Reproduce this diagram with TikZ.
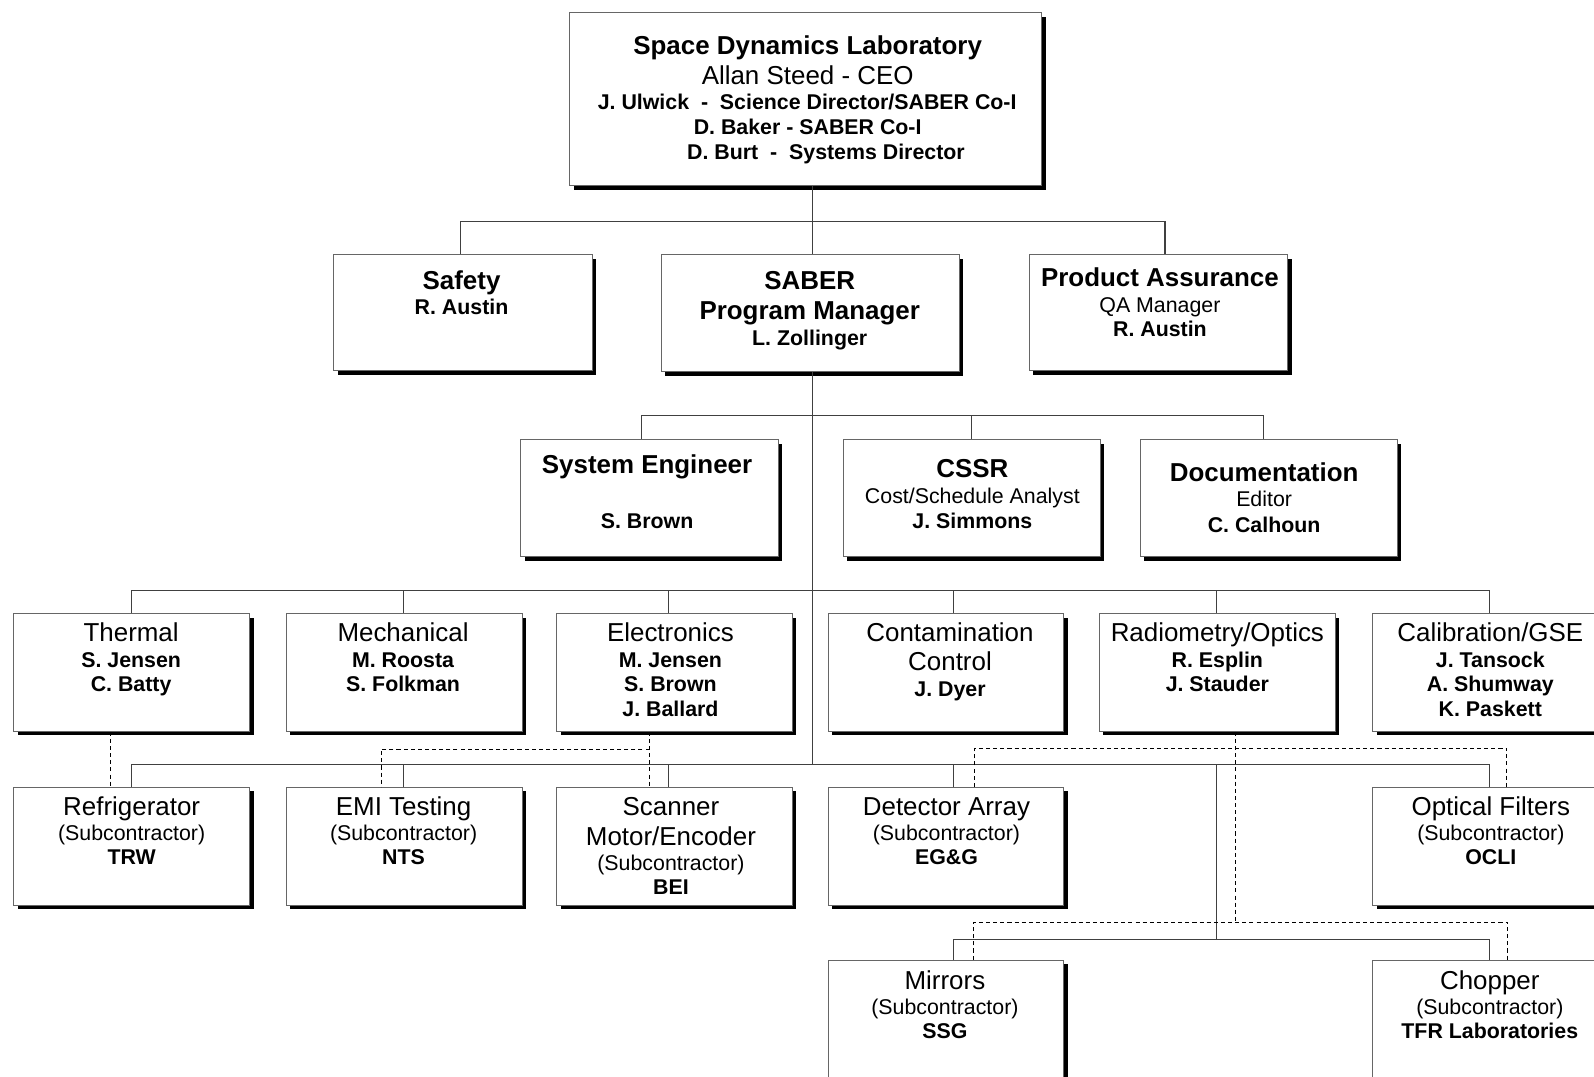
\documentclass[tikz,border=0pt]{standalone}
\usepackage{fontspec}
\setmainfont{Liberation Sans}
\usetikzlibrary{shadows}
\newcommand\tline[5]{\node[#1] (#2) at (#3,#4) {#5};}
\begin{document}
\begin{tikzpicture}[x=1pt,y=-1pt,
  box/.style={draw=black!60, line width=0.9pt, fill=white, inner sep=0pt, anchor=north west,
    drop shadow={shadow xshift=4pt, shadow yshift=-4pt, fill=black, opacity=1}},
  conn/.style={draw=black!75, line width=1.1pt},
  dline/.style={draw=black, line width=0.9pt, dash pattern=on 4pt off 3pt},
  tb/.style={anchor=base, inner sep=0pt, font=\fontsize{25.5}{29}\selectfont\bfseries},
  tr/.style={anchor=base, inner sep=0pt, font=\fontsize{25.5}{29}\selectfont},
  mb/.style={anchor=base, inner sep=0pt, font=\fontsize{21}{24}\selectfont\bfseries},
  mr/.style={anchor=base, inner sep=0pt, font=\fontsize{21}{24}\selectfont},
  l4/.style={box, minimum width=232pt, minimum height=116pt},
  l6/.style={box, minimum width=232pt, minimum height=150pt}]
\clip (0,0) rectangle (1568,1059);
\fill[white] (0,0) rectangle (1568,1059);

% ---------- boxes ----------
\node[box, minimum width=464pt, minimum height=170pt] (sdl) at (560,12) {};
\node[box, minimum width=254pt, minimum height=114pt] (safety) at (328,250) {};
\node[box, minimum width=293pt, minimum height=115pt] (pm) at (650,250) {};
\node[box, minimum width=254pt, minimum height=114pt] (pa) at (1012,250) {};
\node[box, minimum width=253pt, minimum height=115pt] (se) at (512,432) {};
\node[box, minimum width=253pt, minimum height=115pt] (cssr) at (829,432) {};
\node[box, minimum width=253pt, minimum height=115pt] (doc) at (1121,432) {};
\node[l4] (thermal) at (13,603) {};
\node[l4] (mech) at (281,603) {};
\node[l4] (elec) at (547,603) {};
\node[l4] (contam) at (814,603) {};
\node[l4] (radio) at (1081,603) {};
\node[l4] (calib) at (1350,603) {};
\node[l4] (refrig) at (13,774) {};
\node[l4] (emi) at (281,774) {};
\node[l4] (scanner) at (547,774) {};
\node[l4] (detector) at (814,774) {};
\node[l4] (optical) at (1350,774) {};
\node[l6] (mirrors) at (814,944) {};
\node[l6] (chopper) at (1350,944) {};

% ---------- solid connectors ----------
\coordinate (b1) at (799,218);
\coordinate (b1l) at (453,218);
\coordinate (b1r) at (1146,218);
\draw[conn] (sdl.south -| b1) -- (b1) -- (pm.north -| b1);
\draw[conn] (safety.north -| b1l) -- (b1l) -- (b1r) -- (pa.north -| b1r);

\coordinate (b2l) at (631,409);
\coordinate (b2m) at (956,409);
\coordinate (b2r) at (1243,409);
\coordinate (b5) at (799,752);
\draw[conn] (pm.south -| b1) -- (b5);
\draw[conn] (se.north -| b2l) -- (b2l) -- (b2r) -- (doc.north -| b2r);
\draw[conn] (b2m) -- (cssr.north -| b2m);

\coordinate (c1) at (129,581);
\coordinate (c2) at (397,581);
\coordinate (c3) at (658,581);
\coordinate (c4) at (938,581);
\coordinate (c5) at (1197,581);
\coordinate (c6) at (1465,581);
\draw[conn] (thermal.north -| c1) -- (c1) -- (c6) -- (calib.north -| c6);
\draw[conn] (c2) -- (mech.north -| c2);
\draw[conn] (c3) -- (elec.north -| c3);
\draw[conn] (c4) -- (contam.north -| c4);
\draw[conn] (c5) -- (radio.north -| c5);

\coordinate (d1) at (129,752);
\coordinate (d2) at (397,752);
\coordinate (d3) at (658,752);
\coordinate (d4) at (938,752);
\coordinate (d5) at (1197,752);
\coordinate (d6) at (1465,752);
\draw[conn] (refrig.north -| d1) -- (d1) -- (d6) -- (optical.north -| d6);
\draw[conn] (d2) -- (emi.north -| d2);
\draw[conn] (d3) -- (scanner.north -| d3);
\draw[conn] (d4) -- (detector.north -| d4);

\coordinate (e4) at (938,924);
\coordinate (e5) at (1197,924);
\coordinate (e6) at (1465,924);
\draw[conn] (d5) -- (e5);
\draw[conn] (mirrors.north -| e4) -- (e4) -- (e6) -- (chopper.north -| e6);

% ---------- dashed connectors ----------
\coordinate (dT) at (108.5,745);
\draw[dline] (thermal.south -| dT) -- (refrig.north -| dT);
\coordinate (dE) at (639,737);
\coordinate (dEm) at (375,737);
\draw[dline] (elec.south -| dE) -- (scanner.north -| dE);
\draw[dline] (dE) -- (dEm) -- (emi.north -| dEm);
\coordinate (dR1) at (1215,736);
\coordinate (dR2) at (1215,907);
\coordinate (dRa) at (959,736);
\coordinate (dRb) at (1482,736);
\coordinate (dRc) at (958,907);
\coordinate (dRd) at (1483,907);
\draw[dline] (radio.south -| dR1) -- (dR2);
\draw[dline] (detector.north -| dRa) -- (dRa) -- (dRb) -- (optical.north -| dRb);
\draw[dline] (mirrors.north -| dRc) -- (dRc) -- (dRd) -- (chopper.north -| dRd);

% ---------- texts ----------
\tline{tb}{sdl1}{794.5}{54}{Space Dynamics Laboratory}
\tline{tr}{sdl2}{794.5}{83}{Allan Steed - CEO}
\tline{mb}{sdl3}{794}{107.5}{J. Ulwick\ \ -\ \ Science Director/SABER Co-I}
\tline{mb}{sdl4}{794.5}{132.5}{D. Baker - SABER Co-I}
\tline{mb}{sdl5}{812.5}{156.5}{D. Burt\ \ -\ \ Systems Director}

\tline{tb}{safety1}{454}{285}{Safety}
\tline{mb}{safety2}{454}{309.5}{R. Austin}

\tline{tb}{pm1}{796.5}{285}{SABER}
\tline{tb}{pm2}{796.5}{314}{Program Manager}
\tline{mb}{pm3}{796.5}{339.5}{L. Zollinger}

\tline{tb}{pa1}{1141}{282}{Product Assurance}
\tline{mr}{pa2}{1141}{307.5}{QA Manager}
\tline{mb}{pa3}{1141}{331.5}{R. Austin}

\tline{tb}{se1}{636.5}{466}{System Engineer}
\tline{mb}{se2}{636.5}{519.5}{S. Brown}

\tline{tb}{cssr1}{956.5}{470}{CSSR}
\tline{mr}{cssr2}{956.5}{495.5}{Cost/Schedule Analyst}
\tline{mb}{cssr3}{956.5}{519.5}{J. Simmons}

\tline{tb}{doc1}{1243.5}{474}{Documentation}
\tline{mr}{doc2}{1243.5}{498.5}{Editor}
\tline{mb}{doc3}{1243.5}{523.5}{C. Calhoun}

\tline{tr}{thermal1}{129}{631}{Thermal}
\tline{mb}{thermal2}{129}{656.5}{S. Jensen}
\tline{mb}{thermal3}{129}{680.5}{C. Batty}

\tline{tr}{mech1}{396.5}{631}{Mechanical}
\tline{mb}{mech2}{396.5}{656.5}{M. Roosta}
\tline{mb}{mech3}{396.5}{680.5}{S. Folkman}

\tline{tr}{elec1}{659.5}{631}{Electronics}
\tline{mb}{elec2}{659.5}{656.5}{M. Jensen}
\tline{mb}{elec3}{659.5}{680.5}{S. Brown}
\tline{mb}{elec4}{659.5}{704.5}{J. Ballard}

\tline{tr}{contam1}{934.5}{631}{Contamination}
\tline{tr}{contam2}{934.5}{660}{Control}
\tline{mb}{contam3}{934.5}{685.5}{J. Dyer}

\tline{tr}{radio1}{1197.5}{631}{Radiometry/Optics}
\tline{mb}{radio2}{1197.5}{656.5}{R. Esplin}
\tline{mb}{radio3}{1197.5}{680.5}{J. Stauder}

\tline{tr}{calib1}{1466}{631}{Calibration/GSE}
\tline{mb}{calib2}{1466}{656.5}{J. Tansock}
\tline{mb}{calib3}{1466}{680.5}{A. Shumway}
\tline{mb}{calib4}{1466}{704.5}{K. Paskett}

\tline{tr}{refrig1}{129.5}{802}{Refrigerator}
\tline{mr}{refrig2}{129.5}{826.5}{(Subcontractor)}
\tline{mb}{refrig3}{129.5}{850.5}{TRW}

\tline{tr}{emi1}{397}{802}{EMI Testing}
\tline{mr}{emi2}{397}{826.5}{(Subcontractor)}
\tline{mb}{emi3}{397}{850.5}{NTS}

\tline{tr}{scanner1}{660}{802}{Scanner}
\tline{tr}{scanner2}{660}{832}{Motor/Encoder}
\tline{mr}{scanner3}{660}{856.5}{(Subcontractor)}
\tline{mb}{scanner4}{660}{879.5}{BEI}

\tline{tr}{detector1}{931}{802}{Detector Array}
\tline{mr}{detector2}{931}{826.5}{(Subcontractor)}
\tline{mb}{detector3}{931}{850.5}{EG\&G}

\tline{tr}{optical1}{1466.5}{802}{Optical Filters}
\tline{mr}{optical2}{1466.5}{826.5}{(Subcontractor)}
\tline{mb}{optical3}{1466.5}{850.5}{OCLI}

\tline{tr}{mirrors1}{929.5}{973}{Mirrors}
\tline{mr}{mirrors2}{929.5}{997.5}{(Subcontractor)}
\tline{mb}{mirrors3}{929.5}{1021.5}{SSG}

\tline{tr}{chopper1}{1465.5}{973}{Chopper}
\tline{mr}{chopper2}{1465.5}{997.5}{(Subcontractor)}
\tline{mb}{chopper3}{1465.5}{1021.5}{TFR Laboratories}
\end{tikzpicture}
\end{document}
